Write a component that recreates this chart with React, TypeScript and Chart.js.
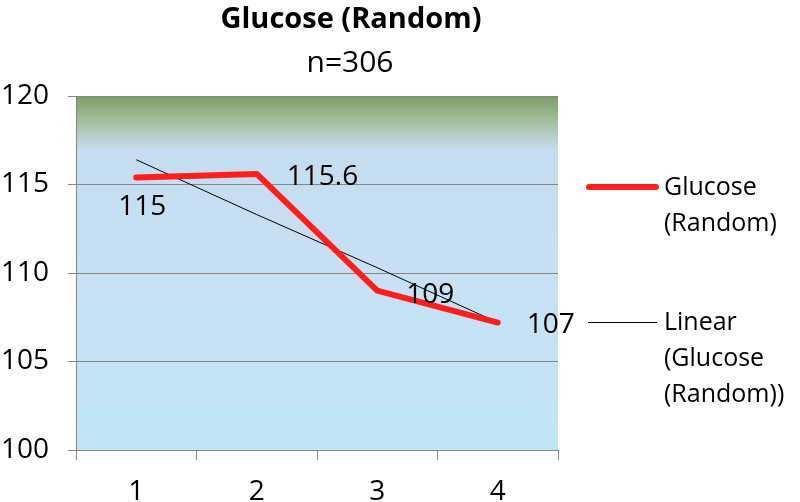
import React, { useEffect, useRef } from "react";
import { Chart, registerables } from "chart.js";

Chart.register(...registerables);

const categories = ["1", "2", "3", "4"];
const glucose = [115.4, 115.6, 109.0, 107.2];
const glucoseLabels = ["115", "115.6", "109", "107"];
const trend = [116.4, 113.3, 110.3, 107.2];
const yMin = 100;
const yMax = 120;
const yStep = 5;
const titleText = "Glucose (Random)";
const subtitleText = "n=306";
const legendGlucose = ["Glucose", "(Random)"];
const legendLinear = ["Linear", "(Glucose", "(Random))"];

const FONT = '"Open Sans", "DejaVu Sans", sans-serif';

const bgPlugin = {
  id: "bgGradient",
  beforeDraw(chart: any) {
    const { ctx, chartArea: a } = chart;
    const g = ctx.createLinearGradient(0, a.top, 0, a.bottom);
    g.addColorStop(0, "#789f66");
    g.addColorStop(0.06, "#9dbb92");
    g.addColorStop(0.15, "#c6dcef");
    g.addColorStop(0.5, "#c9e0f4");
    g.addColorStop(1, "#bfe6f6");
    ctx.save();
    ctx.fillStyle = g;
    ctx.fillRect(a.left, a.top, a.right - a.left, a.bottom - a.top);
    ctx.restore();
  },
};

// label placement per point: [dx, dyBaseline, align]
const labelPlacement: [number, number, CanvasTextAlign][] = [
  [6, 38, "center"],
  [30, 11, "left"],
  [29, 12, "left"],
  [29, 10, "left"],
];

const overlayPlugin = {
  id: "overlay",
  afterDraw(chart: any) {
    const { ctx } = chart;
    ctx.save();
    ctx.fillStyle = "#000";
    ctx.textBaseline = "alphabetic";
    ctx.textAlign = "center";
    ctx.font = `bold 29px ${FONT}`;
    ctx.fillText(titleText, 351, 28);
    ctx.font = `30px ${FONT}`;
    ctx.fillText(subtitleText, 350, 72);

    const meta = chart.getDatasetMeta(0);
    ctx.font = `28px ${FONT}`;
    meta.data.forEach((pt: any, i: number) => {
      const [dx, dy, align] = labelPlacement[i];
      ctx.textAlign = align;
      ctx.fillText(glucoseLabels[i], pt.x + dx, pt.y + dy);
    });

    ctx.lineCap = "round";
    ctx.strokeStyle = "#ff1f1f";
    ctx.lineWidth = 6;
    ctx.beginPath();
    ctx.moveTo(589, 187);
    ctx.lineTo(656, 187);
    ctx.stroke();
    ctx.lineCap = "butt";
    ctx.strokeStyle = "#000";
    ctx.lineWidth = 1;
    ctx.beginPath();
    ctx.moveTo(588, 322.5);
    ctx.lineTo(657, 322.5);
    ctx.stroke();

    ctx.font = `25px ${FONT}`;
    ctx.textAlign = "left";
    legendGlucose.forEach((t, i) => ctx.fillText(t, 664, 195 + i * 36));
    legendLinear.forEach((t, i) => ctx.fillText(t, 664, 330 + i * 36));
    ctx.restore();
  },
};

export default function App() {
  const ref = useRef<HTMLCanvasElement | null>(null);
  useEffect(() => {
    if (!ref.current) return;
    const chart = new Chart(ref.current, {
      type: "line",
      data: {
        labels: categories,
        datasets: [
          {
            label: "Glucose (Random)",
            data: glucose,
            borderColor: "#ff1f1f",
            borderWidth: 6,
            pointRadius: 0,
            tension: 0,
            borderCapStyle: "round",
            borderJoinStyle: "round",
            fill: false,
          },
          {
            label: "Linear (Glucose (Random))",
            data: trend,
            borderColor: "#000",
            borderWidth: 1,
            pointRadius: 0,
            tension: 0,
            fill: false,
          },
        ],
      },
      options: {
        animation: false,
        responsive: false,
        layout: { padding: { top: 96, right: 242, left: 0, bottom: 0 } },
        plugins: {
          legend: { display: false },
          title: { display: false },
          tooltip: { enabled: false },
        },
        scales: {
          x: {
            type: "category",
            offset: true,
            grid: {
              display: true,
              offset: true,
              drawOnChartArea: false,
              drawTicks: true,
              tickLength: 10,
              color: "#868686",
            },
            border: { display: true, color: "#868686", width: 1 },
            ticks: {
              font: { family: FONT, size: 28 },
              color: "#000",
              padding: 15,
              maxRotation: 0,
            },
            afterFit: (s: any) => {
              s.height = 52;
            },
          },
          y: {
            min: yMin,
            max: yMax,
            ticks: {
              stepSize: yStep,
              font: { family: FONT, size: 28 },
              color: "#000",
              padding: 19,
            },
            grid: { color: "#868686", tickLength: 8, drawTicks: true },
            border: { display: true, color: "#868686", width: 1 },
            afterFit: (s: any) => {
              s.width = 76;
            },
          },
        },
      },
      plugins: [bgPlugin, overlayPlugin],
    } as any);
    return () => chart.destroy();
  }, []);
  return (
    <div style={{ position: "absolute", left: 0, top: 0, width: 800, height: 502, background: "#fff" }}>
      <canvas ref={ref} width={800} height={502} style={{ display: "block" }} />
    </div>
  );
}
